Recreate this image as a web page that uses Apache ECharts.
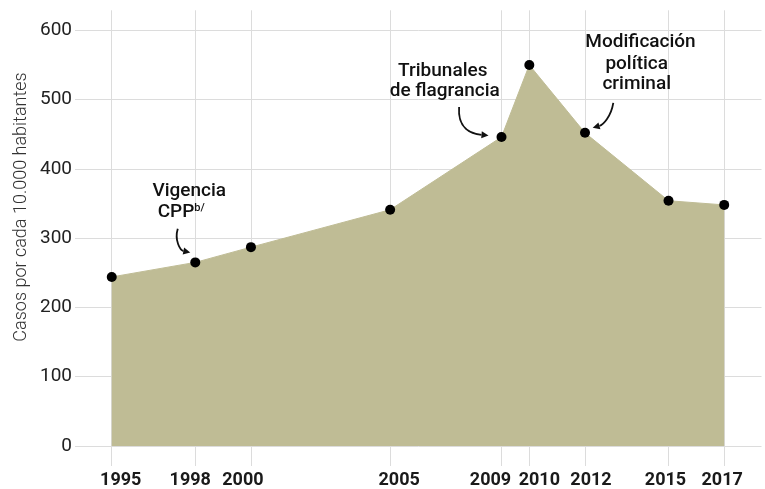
<!DOCTYPE html>
<html>
<head>
<meta charset="utf-8">
<script src="https://cdn.jsdelivr.net/npm/echarts@6/dist/echarts.min.js"></script>
<style>
  html, body { margin: 0; padding: 0; background: #fff; }
  #chart { width: 765px; height: 489px; }
</style>
</head>
<body>
<div id="chart"></div>
<script>
// datos
const years = [1995, 1998, 2000, 2005, 2009, 2010, 2012, 2015, 2017];
const casos = [244, 265, 287, 341, 446, 550, 452, 354, 348];
const yTicks = [0, 100, 200, 300, 400, 500, 600];
const yTitle = "Casos por cada 10.000 habitantes";

// desplazamiento horizontal de cada etiqueta del eje x (px)
const labelShift = { 1995: 9, 1998: -5, 2000: -8, 2005: 9, 2009: -11, 2010: 10, 2012: 6, 2015: -3, 2017: -2 };

const FONT = "Roboto";
const gridColor = "#dcdcdc";

const chart = echarts.init(document.getElementById("chart"));

// rich styles para mover las etiquetas
const rich = {};
years.forEach(y => {
  const d = labelShift[y] || 0;
  rich["y" + y] = {
    fontFamily: FONT,
    fontWeight: "bold",
    fontSize: 18,
    color: "#1a1a1a",
    padding: d >= 0 ? [0, 0, 0, 2 * d] : [0, -2 * d, 0, 0]
  };
});

const xMin = 1993.68;
const xMax = 2018.34;

const opt = {
  animation: false,
  grid: { left: 75, right: 3.5, top: 30.3, bottom: 41.7 },
  xAxis: [
    {
      type: "value",
      min: xMin,
      max: xMax,
      axisLine: { show: false },
      axisTick: {
        show: true,
        customValues: years,
        length: 20,
        lineStyle: { color: gridColor, width: 1 }
      },
      axisLabel: {
        customValues: years,
        margin: 25,
        formatter: v => "{y" + v + "|" + v + "}",
        rich: rich
      },
      splitLine: { show: true, lineStyle: { color: gridColor, width: 1 } }
    },
    {
      // solo para prolongar las líneas verticales hacia arriba
      type: "value",
      position: "top",
      min: xMin,
      max: xMax,
      axisLine: { show: false },
      axisTick: {
        show: true,
        customValues: years,
        length: 20,
        lineStyle: { color: gridColor, width: 1 }
      },
      axisLabel: { show: false },
      splitLine: { show: false }
    }
  ],
  yAxis: {
    type: "value",
    min: yTicks[0],
    max: yTicks[yTicks.length - 1],
    interval: 100,
    axisLine: { show: false },
    axisTick: { show: false },
    axisLabel: {
      margin: 3,
      fontFamily: FONT,
      fontSize: 19,
      color: "#222"
    },
    splitLine: { show: true, lineStyle: { color: gridColor, width: 1 } }
  },
  series: [
    {
      type: "line",
      data: years.map((y, i) => [y, casos[i]]),
      symbol: "circle",
      symbolSize: 10,
      showAllSymbol: true,
      itemStyle: { color: "#000" },
      lineStyle: { color: "#bfbc95", width: 1 },
      areaStyle: { color: "#bfbc95", opacity: 1 },
      z: 3
    }
  ]
};

chart.setOption(opt);

// anotaciones
function px(year) {
  const i = years.indexOf(year);
  return chart.convertToPixel({ seriesIndex: 0 }, [year, casos[i]]);
}

function label(p, dx, dy, text, extra) {
  return {
    type: "text",
    x: p[0] + dx,
    y: p[1] + dy,
    z: 10,
    style: Object.assign({
      text: text,
      fontFamily: FONT,
      fontWeight: 500,
      fontSize: 19,
      fill: "#111",
      align: "center",
      verticalAlign: "middle"
    }, extra || {})
  };
}

function arrow(p, a, c1, c2, b) {
  const s = [p[0] + a[0], p[1] + a[1]];
  const k1 = [p[0] + c1[0], p[1] + c1[1]];
  const k2 = [p[0] + c2[0], p[1] + c2[1]];
  const e = [p[0] + b[0], p[1] + b[1]];
  const ang = Math.atan2(e[1] - k2[1], e[0] - k2[0]);
  const L = 7, W = 3.5;
  const bx = e[0] - L * Math.cos(ang), by = e[1] - L * Math.sin(ang);
  const nx = -Math.sin(ang) * W, ny = Math.cos(ang) * W;
  return [
    {
      type: "bezierCurve",
      z: 10,
      shape: { x1: s[0], y1: s[1], cpx1: k1[0], cpy1: k1[1], cpx2: k2[0], cpy2: k2[1], x2: bx, y2: by },
      style: { stroke: "#111", lineWidth: 1.8, fill: null }
    },
    {
      type: "polygon",
      z: 10,
      shape: { points: [[e[0], e[1]], [bx + nx, by + ny], [bx - nx, by - ny]] },
      style: { fill: "#111" }
    }
  ];
}

const p98 = px(1998), p09 = px(2009), p12 = px(2012);

const graphics = [
  {
    type: "text",
    x: 21,
    y: 207,
    rotation: Math.PI / 2,
    style: {
      text: yTitle,
      fontFamily: FONT,
      fontWeight: 300,
      fontSize: 18,
      fill: "#333",
      align: "center",
      verticalAlign: "middle"
    }
  },
  label(p98, -6, -71, "Vigencia"),
  label(p98, -14, -50, "{a|CPP}{b|b/}", {
    rich: {
      a: { fontFamily: FONT, fontWeight: 500, fontSize: 19, fill: "#111" },
      b: { fontFamily: FONT, fontWeight: 500, fontSize: 11, fill: "#111", padding: [0, 0, 9, 0] }
    }
  }),
  label(p09, -58.7, -65.6, "Tribunales"),
  label(p09, -56.7, -45.6, "de flagrancia"),
  label(p12, 55.5, -90.6, "Modificación"),
  label(p12, 51.7, -68.3, "política"),
  label(p12, 51.7, -48.3, "criminal")
]
  .concat(arrow(p98, [-17.5, -33.7], [-21, -22], [-15, -12], [-5, -10]))
  .concat(arrow(p09, [-42.4, -30], [-44, -8], [-30, -3], [-13, -1.6]))
  .concat(arrow(p12, [28.3, -30], [26, -16], [18, -8], [7.7, -5]));

chart.setOption({ graphic: graphics });
</script>
</body>
</html>
